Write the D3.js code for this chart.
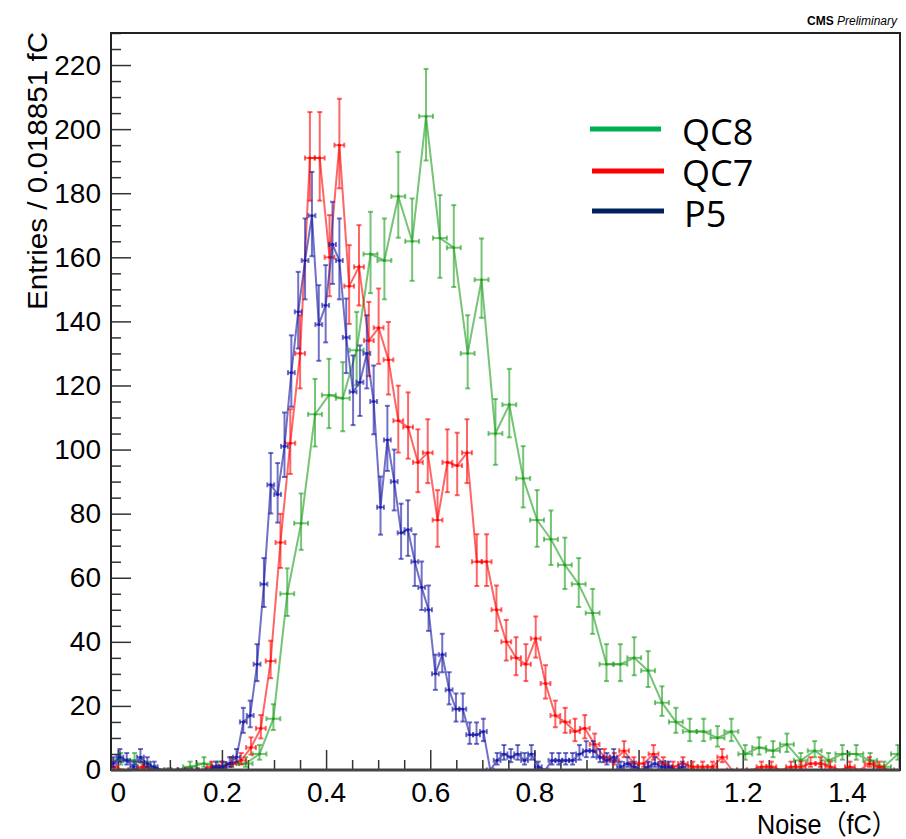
<!DOCTYPE html>
<html>
<head>
<meta charset="utf-8">
<script src="https://cdn.jsdelivr.net/npm/d3@7"></script>
<style>
  body { margin: 0; background: #fff; }
  svg { display: block; }
</style>
</head>
<body>
<div id="chart"></div>
<script>
// axis ticks
const xMajorTicks = [0, 0.2, 0.4, 0.6, 0.8, 1, 1.2, 1.4];
const yMajorTicks = [0, 20, 40, 60, 80, 100, 120, 140, 160, 180, 200, 220];

// QC8 (green) - own binning
const qc8Start = -0.0077;
const qc8BinWidth = 0.02665;
const qc8Counts = [3, 3, 1, 0, 0, 1, 2, 1, 2,
  2, 5, 16, 55, 77, 111, 117, 116, 131, 161,
  159, 179, 165, 204, 166, 163, 130, 153, 105, 114,
  91, 78, 72, 64, 58, 49, 33, 33, 35, 31,
  21, 15, 12, 12, 10, 12, 5, 7, 6, 8,
  3, 6, 3, 5, 5, 3, 1, 5];

// QC7 (red)
const qc7Start = -0.0175;
const qc7BinWidth = 0.018851;
const qc7Counts = [1, 0, 0, 1, 0, 0, 0, 0, 0, 0,
  1, 1, 2, 3, 7, 13, 34, 71, 102, 130,
  191, 191, 160, 195, 151, 157, 134, 138, 128, 109,
  107, 96, 99, 78, 96, 95, 99, 65, 65, 50,
  40, 35, 33, 41, 27, 17, 15, 12, 13, 8,
  4, 3, 6, 2, 2, 5, 2, 1, 2, 1,
  1, 1, 4, 0, 0, 0, 1, 1, 0, 1,
  1, 2, 2, 1, 0, 1, 0, 2, 1, 0];

// P5 (blue)
const p5Start = -0.0157;
const p5BinWidth = 0.01317;
const p5Counts = [2, 4, 3, 1, 4, 2, 1, 0, 0, 0, 0, 0, 0, 0, 0, 1, 1, 2, 4,
  15, 17, 33, 58, 89, 86, 101, 124, 143, 159,
  173, 139, 145, 164, 159, 135, 118, 121, 130, 115,
  82, 103, 90, 74, 75, 65, 57, 50, 30, 36,
  25, 19, 19, 11, 11, 12, 0, 3, 5, 4,
  5, 3, 5, 1, 0, 3, 3, 3, 3, 5,
  6, 6, 4, 3, 4, 1, 2, 1, 0, 1, 2, 1, 1, 0, 1];

const legendNames = ['QC8', 'QC7', 'P5'];
const legendColors = ['#00b050', '#ff0000', '#002060'];

const series = [
  { counts: qc8Counts, start: qc8Start, bw: qc8BinWidth, color: '#22a022', opacity: 0.62 },
  { counts: qc7Counts, start: qc7Start, bw: qc7BinWidth, color: '#ff0000', opacity: 0.6 },
  { counts: p5Counts, start: p5Start, bw: p5BinWidth, color: '#1a1aa6', opacity: 0.62 }
];

const W = 906, H = 839;
const frame = { left: 111, right: 900, top: 33, bottom: 770 };

const svg = d3.select('#chart')
  .append('svg')
  .attr('width', W)
  .attr('height', H)
  .style('font-family', '"Liberation Sans", Arial, sans-serif');

const x = d3.scaleLinear().domain([-0.013, 1.502]).range([frame.left, frame.right]);
const y = d3.scaleLinear().domain([0, 230]).range([frame.bottom, frame.top]);

svg.append('defs').append('clipPath').attr('id', 'clip')
  .append('rect')
  .attr('x', frame.left).attr('y', frame.top - 2)
  .attr('width', frame.right - frame.left).attr('height', frame.bottom - frame.top + 2);

// minor ticks
const xMinor = d3.range(0, 1.51, 0.05).filter(v => !xMajorTicks.some(t => Math.abs(t - v) < 1e-6));
const yMinor = d3.range(0, 231, 5).filter(v => v % 20 !== 0);

svg.append('g')
  .attr('transform', 'translate(0,' + frame.bottom + ')')
  .call(d3.axisBottom(x).tickValues(xMinor).tickSize(-10).tickFormat(''))
  .call(g => g.select('.domain').remove())
  .selectAll('line').attr('stroke', '#333').attr('stroke-width', 1.5);

svg.append('g')
  .attr('transform', 'translate(' + frame.left + ',0)')
  .call(d3.axisLeft(y).tickValues(yMinor).tickSize(-10).tickFormat(''))
  .call(g => g.select('.domain').remove())
  .selectAll('line').attr('stroke', '#333').attr('stroke-width', 1.5);

// major ticks + labels
const xAxis = svg.append('g')
  .attr('transform', 'translate(0,' + frame.bottom + ')')
  .call(d3.axisBottom(x).tickValues(xMajorTicks).tickSize(-20).tickPadding(12).tickFormat(d3.format('')));
xAxis.select('.domain').remove();
xAxis.selectAll('line').attr('stroke', '#333').attr('stroke-width', 1.5);
xAxis.selectAll('text').attr('font-size', 28).attr('fill', '#000')
  .attr('font-family', '"Liberation Sans", Arial, sans-serif');

const yAxis = svg.append('g')
  .attr('transform', 'translate(' + frame.left + ',0)')
  .call(d3.axisLeft(y).tickValues(yMajorTicks).tickSize(-20).tickPadding(10));
yAxis.select('.domain').remove();
yAxis.selectAll('line').attr('stroke', '#333').attr('stroke-width', 1.5);
yAxis.selectAll('text').attr('font-size', 28).attr('fill', '#000')
  .attr('font-family', '"Liberation Sans", Arial, sans-serif');

// data
const plot = svg.append('g').attr('clip-path', 'url(#clip)');

series.forEach(s => {
  const pts = s.counts.map((c, i) => {
    const root = Math.sqrt(c + 0.25);
    return {
      xc: s.start + (i + 0.5) * s.bw,
      x0: s.start + i * s.bw,
      x1: s.start + (i + 1) * s.bw,
      v: c,
      lo: c > 0 ? c - (root - 0.5) : 0,
      hi: c + root + 0.5
    };
  });

  const g = plot.append('g')
    .attr('stroke', s.color)
    .attr('stroke-opacity', s.opacity)
    .attr('fill', 'none')
    .attr('stroke-width', 2);

  g.append('path')
    .datum(pts)
    .attr('d', d3.line().x(d => x(d.xc)).y(d => y(d.v)));

  // horizontal bars with caps
  g.selectAll('.hbar').data(pts).enter().append('line')
    .attr('x1', d => x(d.x0)).attr('x2', d => x(d.x1))
    .attr('y1', d => y(d.v)).attr('y2', d => y(d.v));
  g.selectAll('.hcap').data(pts.flatMap(d => [[d.x0, d.v], [d.x1, d.v]])).enter().append('line')
    .attr('x1', d => x(d[0])).attr('x2', d => x(d[0]))
    .attr('y1', d => y(d[1]) - 2.5).attr('y2', d => y(d[1]) + 2.5);

  // vertical error bars with caps
  const withErr = pts.filter(d => d.v > 0);
  g.selectAll('.vbar').data(withErr).enter().append('line')
    .attr('x1', d => x(d.xc)).attr('x2', d => x(d.xc))
    .attr('y1', d => y(d.lo)).attr('y2', d => y(d.hi));
  g.selectAll('.vcap').data(withErr.flatMap(d => [[d.xc, d.lo], [d.xc, d.hi]])).enter().append('line')
    .attr('x1', d => x(d[0]) - 2.5).attr('x2', d => x(d[0]) + 2.5)
    .attr('y1', d => y(d[1])).attr('y2', d => y(d[1]));

  // markers
  plot.append('g').selectAll('circle').data(pts).enter().append('circle')
    .attr('cx', d => x(d.xc)).attr('cy', d => y(d.v)).attr('r', 1.6)
    .attr('fill', s.color).attr('fill-opacity', 0.8);
});

// frame
svg.append('rect')
  .attr('x', frame.left).attr('y', frame.top)
  .attr('width', frame.right - frame.left).attr('height', frame.bottom - frame.top)
  .attr('fill', 'none').attr('stroke', '#222').attr('stroke-width', 2);
svg.append('line')
  .attr('x1', frame.left).attr('x2', frame.right)
  .attr('y1', frame.bottom).attr('y2', frame.bottom)
  .attr('stroke', '#444').attr('stroke-width', 3);

// axis titles
svg.append('text')
  .attr('transform', 'translate(47,' + (frame.top - 1) + ') rotate(-90)')
  .attr('text-anchor', 'end')
  .attr('font-size', 27)
  .attr('textLength', 278)
  .attr('lengthAdjust', 'spacingAndGlyphs')
  .text('Entries / 0.018851 fC');

svg.append('text')
  .attr('x', 897).attr('y', 834)
  .attr('text-anchor', 'end')
  .attr('font-size', 27)
  .attr('font-family', '"Liberation Sans", "Noto Sans CJK SC", sans-serif')
  .attr('textLength', 140)
  .attr('lengthAdjust', 'spacingAndGlyphs')
  .text('Noise（fC）');

// CMS Preliminary
const cms = svg.append('text')
  .attr('x', 897).attr('y', 25)
  .attr('text-anchor', 'end')
  .attr('font-size', 12);
cms.append('tspan').attr('font-weight', 'bold').text('CMS ');
cms.append('tspan').attr('font-style', 'italic').text('Preliminary');

// legend
const legY = [129, 171, 211];
const legText = [145, 186, 227];
const legend = svg.append('g');
legendNames.forEach((name, i) => {
  legend.append('line')
    .attr('x1', i === 0 ? 590 : 592).attr('x2', i === 0 ? 661 : 664)
    .attr('y1', legY[i]).attr('y2', legY[i])
    .attr('stroke', legendColors[i]).attr('stroke-width', 5);
  legend.append('text')
    .attr('x', i === 2 ? 684 : 682).attr('y', legText[i])
    .attr('font-family', '"Open Sans", "Noto Sans", sans-serif')
    .attr('font-size', 36)
    .text(name);
});
</script>
</body>
</html>
